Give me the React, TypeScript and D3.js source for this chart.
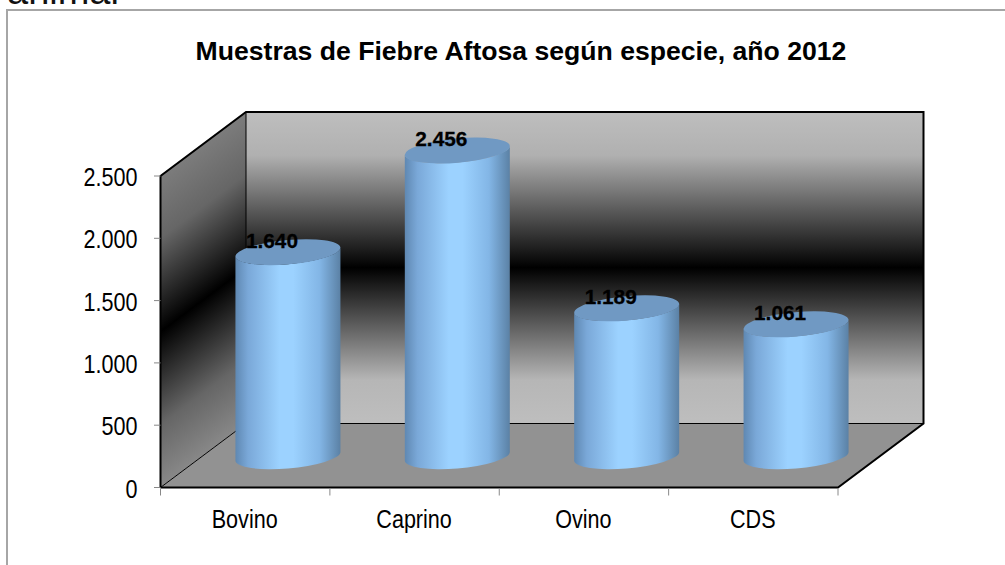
import React from "react";
import * as d3 from "d3";

const categories = ["Bovino", "Caprino", "Ovino", "CDS"];
const values = [1640, 2456, 1189, 1061];
const valueLabels = ["1.640", "2.456", "1.189", "1.061"];
const yTicks = [0, 500, 1000, 1500, 2000, 2500];
const yTickLabels = ["0", "500", "1.000", "1.500", "2.000", "2.500"];
const titleText = "Muestras de Fiebre Aftosa según especie, año 2012";
const clippedHeading = "animal";

const W = 1005, H = 565;
const left = 160.5, right = 838, bottom = 487.5, top = 176;
const dx = 85.5, dy = 64;
const FONT = "'Liberation Sans', Arial, sans-serif";
const NARROW_SCALE = 0.83;

export default function App() {
  const x = d3.scaleBand<string>().domain(categories).range([left, right]).padding(0);
  const y = d3.scaleLinear().domain([0, 2500]).range([bottom, top]);
  const a = 52.7, b = 12.2, rot = -5;
  const ex = 52.5, ey = 4.35;
  const floorY = bottom - 31;
  const k = -dy / dx;
  const poly = (pts: number[][]) => d3.line()(pts as [number, number][]) + "Z";

  return (
    <svg width={W} height={H} style={{ position: "absolute", left: 0, top: 0, background: "#fff" }}>
      <defs>
        <linearGradient id="back" gradientUnits="userSpaceOnUse" x1="0" x2="0" y1={top - dy} y2={bottom - dy}>
          <stop offset="0" stopColor="#bebebe" />
          <stop offset="0.14" stopColor="#b0b0b0" />
          <stop offset="0.5" stopColor="#000" />
          <stop offset="0.86" stopColor="#b6b6b6" />
          <stop offset="1" stopColor="#bebebe" />
        </linearGradient>
        <linearGradient id="side" gradientUnits="userSpaceOnUse" x1="0" x2="0" y1={top} y2={bottom}
          gradientTransform={`matrix(1,${k},0,1,0,${-k * left})`}>
          <stop offset="0" stopColor="#7c7c7c" />
          <stop offset="0.2" stopColor="#666" />
          <stop offset="0.5" stopColor="#000" />
          <stop offset="0.8" stopColor="#666" />
          <stop offset="1" stopColor="#888" />
        </linearGradient>
        <linearGradient id="cyl" x1="0" x2="1" y1="0" y2="0">
          <stop offset="0" stopColor="#5f88b2" />
          <stop offset="0.12" stopColor="#7aa8d8" />
          <stop offset="0.42" stopColor="#9cd2ff" />
          <stop offset="0.55" stopColor="#9cd2ff" />
          <stop offset="0.8" stopColor="#83b6e6" />
          <stop offset="1" stopColor="#5b81a5" />
        </linearGradient>
      </defs>

      <text x={7} y={4} fontFamily={FONT} fontSize={38} fill="#111">{clippedHeading}</text>

      <path d={`M7,565V10H1005`} fill="#fff" stroke="#a6a6a6" strokeWidth={2} />

      <text x={521} y={60} textAnchor="middle" fontFamily={FONT} fontWeight="bold" fontSize={26.6} fill="#000">{titleText}</text>

      <path d={poly([[left + dx, top - dy], [right + dx, top - dy], [right + dx, bottom - dy], [left + dx, bottom - dy]])} fill="url(#back)" />
      <path d={poly([[left, top], [left + dx, top - dy], [left + dx, bottom - dy], [left, bottom]])} fill="url(#side)" />
      <path d={poly([[left, bottom], [left + dx, bottom - dy], [right + dx, bottom - dy], [right, bottom]])} fill="#929292" />

      <path d={`M${left + dx},${top - dy}V${bottom - dy}H${right + dx}M${left + dx},${bottom - dy}L${left},${bottom}`} fill="none" stroke="#000" strokeWidth={1} />
      <path d={`M${left},${bottom}V${top}L${left + dx},${top - dy}H${right + dx}V${bottom - dy}L${right},${bottom}H${left}`} fill="none" stroke="#000" strokeWidth={2} />

      {yTicks.map((t, i) => (
        <g key={t}>
          <line x1={154} x2={left} y1={y(t)} y2={y(t)} stroke="#888" strokeWidth={1} />
          <text transform={`translate(137.5,${y(t) + 10}) scale(${NARROW_SCALE},1)`} textAnchor="end" fontFamily={FONT} fontSize={26} fill="#000">{yTickLabels[i]}</text>
        </g>
      ))}
      {[...categories.map((c) => x(c)!), right].map((v, i) => (
        <line key={i} x1={v} x2={v} y1={bottom + 1} y2={bottom + 8} stroke="#888" strokeWidth={1} />
      ))}
      {categories.map((c) => (
        <text key={c} transform={`translate(${x(c)! + x.bandwidth() / 2 - 0.5},528) scale(${NARROW_SCALE},1)`} textAnchor="middle" fontFamily={FONT} fontSize={26} fill="#000">{c}</text>
      ))}

      {categories.map((c, i) => {
        const cx = x(c)! + x.bandwidth() / 2 + dx / 2;
        const h = y(0) - y(values[i]);
        const yb = floorY;
        const yt = floorY - h;
        const body =
          `M${cx - ex},${yt + ey}L${cx - ex},${yb + ey}` +
          `A${a},${b} ${rot} 0 0 ${cx + ex},${yb - ey}` +
          `L${cx + ex},${yt - ey}` +
          `A${a},${b} ${rot} 0 1 ${cx - ex},${yt + ey}Z`;
        return (
          <g key={c}>
            <path d={body} fill="url(#cyl)" />
            <ellipse cx={0} cy={0} rx={a} ry={b} transform={`translate(${cx},${yt}) rotate(${rot})`} fill="#7099c3" />
            <text x={cx - 16} y={yt - 4.5} textAnchor="middle" fontFamily={FONT} fontWeight="bold" fontSize={20.8} fill="#000" stroke="#000" strokeWidth={0.3}>{valueLabels[i]}</text>
          </g>
        );
      })}
    </svg>
  );
}
